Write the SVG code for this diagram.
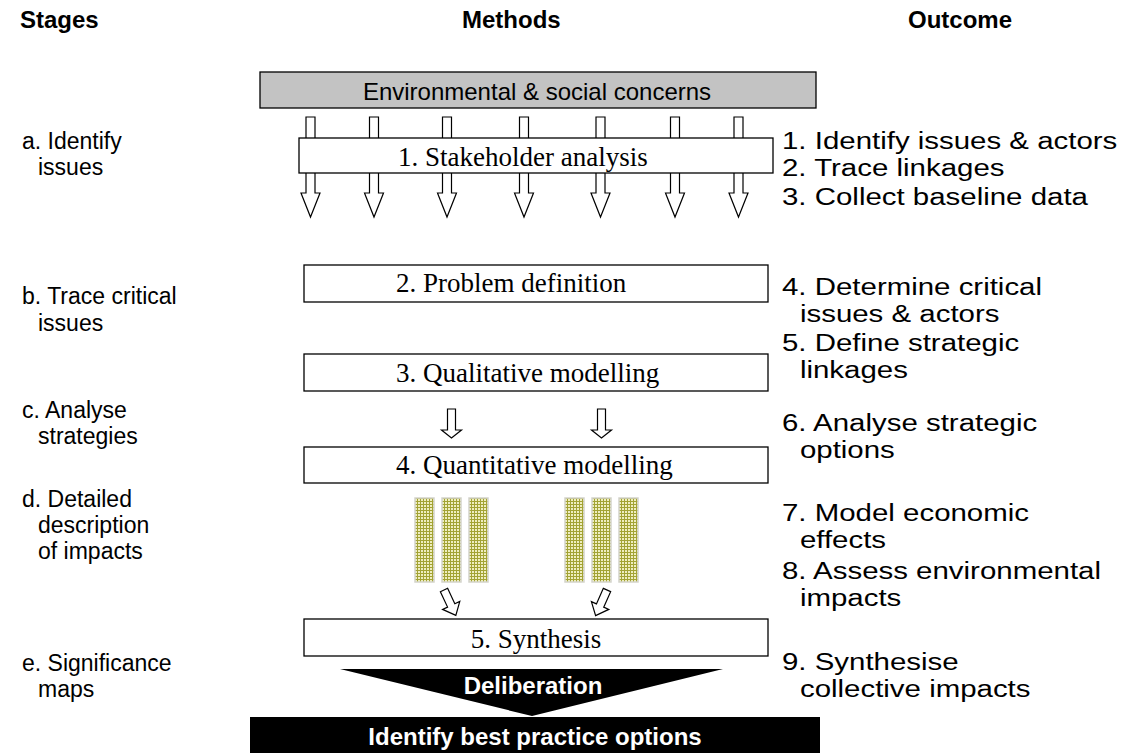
<svg xmlns="http://www.w3.org/2000/svg" width="1125" height="753" viewBox="0 0 1125 753">
<style>
.hdr{font-family:"Liberation Sans",Arial,sans-serif;font-weight:bold;font-size:24px;fill:#000}
.lbl{font-family:"Liberation Sans",Arial,sans-serif;font-size:23px;fill:#000}
.out{font-family:"Liberation Sans",Arial,sans-serif;font-size:23px;fill:#000}
.box{fill:#fff;stroke:#000;stroke-width:1.3}
.btxt{font-family:"Liberation Serif","Times New Roman",serif;font-size:27px;fill:#000}
.arr{fill:#fff;stroke:#000;stroke-width:1.2;stroke-linejoin:miter}
.wb{font-family:"Liberation Sans",Arial,sans-serif;font-weight:bold;font-size:24px;fill:#fff}
.bar{fill:url(#grid);stroke:#d4d4cc;stroke-width:1.5}
</style>
<defs>
<pattern id="grid" x="0" y="0" width="3" height="3" patternUnits="userSpaceOnUse">
<rect width="3" height="3" fill="#efeec0"/>
<rect width="1" height="3" fill="#a3a334"/>
<rect width="3" height="1" fill="#a3a334"/>
</pattern>
<polygon id="bigArrow" points="-4.5,0 4.5,0 4.5,76 9.5,76 0,100 -9.5,76 -4.5,76" class="arr"/>
<polygon id="smallArrow" points="-4,0 4,0 4,21 10,21 0,29 -10,21 -4,21" class="arr"/>
<polygon id="slantArrow" points="-4,0 4,0 4,17 9.5,17 0,28 -9.5,17 -4,17" class="arr"/>
</defs>

<g id="headers">
<text class="hdr" x="20" y="28">Stages</text>
<text class="hdr" x="462" y="28">Methods</text>
<text class="hdr" x="908" y="28">Outcome</text>
</g>

<g id="stages">
<text class="lbl" x="22" y="149">a. Identify</text>
<text class="lbl" x="38" y="175">issues</text>
<text class="lbl" x="22" y="304">b. Trace critical</text>
<text class="lbl" x="38" y="331">issues</text>
<text class="lbl" x="22" y="418">c. Analyse</text>
<text class="lbl" x="38" y="444">strategies</text>
<text class="lbl" x="22" y="507">d. Detailed</text>
<text class="lbl" x="38" y="533">description</text>
<text class="lbl" x="38" y="559">of impacts</text>
<text class="lbl" x="22" y="671">e. Significance</text>
<text class="lbl" x="38" y="697">maps</text>
</g>

<g id="outcomes" transform="translate(782,0) scale(1.28,1)">
<text class="out" x="0" y="149">1. Identify issues &amp; actors</text>
<text class="out" x="0" y="176">2. Trace linkages</text>
<text class="out" x="0" y="205">3. Collect baseline data</text>
<text class="out" x="0" y="295">4. Determine critical</text>
<text class="out" x="14" y="322">issues &amp; actors</text>
<text class="out" x="0" y="351">5. Define strategic</text>
<text class="out" x="14" y="378">linkages</text>
<text class="out" x="0" y="431">6. Analyse strategic</text>
<text class="out" x="14" y="458">options</text>
<text class="out" x="0" y="521">7. Model economic</text>
<text class="out" x="14" y="548">effects</text>
<text class="out" x="0" y="579">8. Assess environmental</text>
<text class="out" x="14" y="606">impacts</text>
<text class="out" x="0" y="670">9. Synthesise</text>
<text class="out" x="14" y="697">collective impacts</text>
</g>

<g id="connectors">
<use href="#bigArrow" x="310.5" y="117"/>
<use href="#bigArrow" x="374" y="117"/>
<use href="#bigArrow" x="447" y="117"/>
<use href="#bigArrow" x="524" y="117"/>
<use href="#bigArrow" x="600.5" y="117"/>
<use href="#bigArrow" x="675" y="117"/>
<use href="#bigArrow" x="738.5" y="117"/>
<use href="#smallArrow" x="451.5" y="409"/>
<use href="#smallArrow" x="601.5" y="409"/>
<use href="#slantArrow" transform="translate(444,590) rotate(-25)"/>
<use href="#slantArrow" transform="translate(607,590) rotate(24)"/>
</g>

<g id="concerns">
<rect x="260" y="72" width="556" height="36" fill="#c3c3c3" stroke="#000" stroke-width="1.3"/>
<text x="537" y="100" text-anchor="middle" font-family="Liberation Sans, Arial, sans-serif" font-size="24">Environmental &amp; social concerns</text>
</g>

<g id="stakeholder">
<rect class="box" x="299" y="138" width="474" height="35"/>
<text class="btxt" x="398" y="166">1. Stakeholder analysis</text>
</g>

<g id="problem">
<rect class="box" x="304" y="265" width="464" height="37"/>
<text class="btxt" x="396" y="292">2. Problem definition</text>
</g>

<g id="qualitative">
<rect class="box" x="304" y="354" width="464" height="37"/>
<text class="btxt" x="396" y="382">3. Qualitative modelling</text>
</g>

<g id="quantitative">
<rect class="box" x="304" y="447" width="464" height="36"/>
<text class="btxt" x="396" y="474">4. Quantitative modelling</text>
</g>

<g id="bars">
<rect class="bar" x="415" y="498" width="19" height="84"/>
<rect class="bar" x="442" y="498" width="19" height="84"/>
<rect class="bar" x="469" y="498" width="19" height="84"/>
<rect class="bar" x="565" y="498" width="19" height="84"/>
<rect class="bar" x="592" y="498" width="19" height="84"/>
<rect class="bar" x="619" y="498" width="19" height="84"/>
</g>

<g id="synthesis">
<rect class="box" x="304" y="619" width="464" height="37"/>
<text class="btxt" x="536" y="648" text-anchor="middle">5. Synthesis</text>
</g>

<g id="deliberation">
<polygon points="340,669 723,669 532,716" fill="#000"/>
<text class="wb" x="533" y="694" text-anchor="middle">Deliberation</text>
</g>

<g id="best-practice">
<rect x="250" y="717" width="570" height="36" fill="#000"/>
<text class="wb" x="535" y="745" text-anchor="middle">Identify best practice options</text>
</g>
</svg>
